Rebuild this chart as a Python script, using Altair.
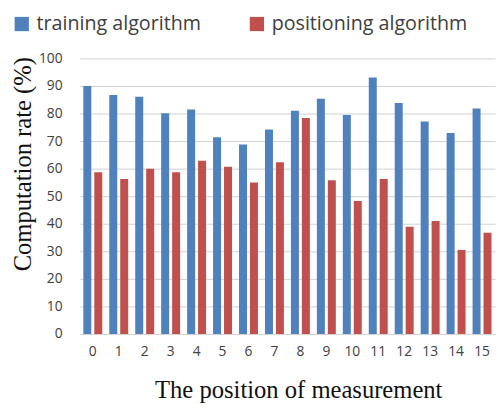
import altair as alt
import pandas as pd

positions = [str(i) for i in range(16)]
training = [90, 86.7, 86.1, 80.1, 81.5, 71.4, 68.8, 74.2, 81.0, 85.4, 79.5, 93.1, 83.8, 77.1, 72.9, 81.8]
positioning = [58.7, 56.2, 60.0, 58.7, 62.9, 60.7, 55.0, 62.3, 78.4, 55.8, 48.3, 56.2, 38.9, 41.0, 30.5, 36.7]
series = ["training algorithm", "positioning algorithm"]
colors = ["#4F81BD", "#C0504D"]

rows = []
for p, t, q in zip(positions, training, positioning):
    rows.append({"pos": p, "series": series[0], "value": t})
    rows.append({"pos": p, "series": series[1], "value": q})
df = pd.DataFrame(rows)

chart = alt.Chart(df).mark_bar().encode(
    x=alt.X("pos:N", sort=positions,
            scale=alt.Scale(paddingInner=0.27, paddingOuter=0.135),
            axis=alt.Axis(title="The position of measurement", labelAngle=0,
                          domain=False, ticks=False, labelPadding=11,
                          labelFont="Open Sans", labelFontSize=14, labelColor="#404040",
                          titleFont="Liberation Serif", titleFontSize=25,
                          titleFontWeight="normal", titleColor="#111111",
                          titleX=222, titleY=65, titleBaseline="alphabetic")),
    xOffset=alt.XOffset("series:N", sort=series,
                        scale=alt.Scale(paddingInner=0.27, paddingOuter=0)),
    y=alt.Y("value:Q", scale=alt.Scale(domain=[0, 100]),
            axis=alt.Axis(title="Computation rate (%)", values=list(range(0, 101, 10)),
                          domain=False, ticks=False, labelPadding=18,
                          labelFont="Open Sans", labelFontSize=14, labelColor="#404040",
                          gridColor="#d0d0d0", gridWidth=1,
                          titleFont="Liberation Serif", titleFontSize=25,
                          titleFontWeight="normal", titleColor="#111111",
                          titleX=-58, titleY=107, titleBaseline="middle", titleAngle=-90)),
    color=alt.Color("series:N", sort=series,
                    scale=alt.Scale(domain=series, range=colors),
                    legend=alt.Legend(title=None, orient="none", direction="horizontal",
                                      legendX=-69, legendY=-45,
                                      symbolType="square", symbolSize=210,
                                      symbolStrokeWidth=0, symbolOpacity=1,
                                      labelFont="Open Sans", labelFontSize=20,
                                      labelColor="#404040", labelOffset=5,
                                      labelLimit=400, columnPadding=46)),
).properties(
    width=422, height=280,
    autosize=alt.AutoSizeParams(type="none"),
    padding={"left": 73, "top": 48, "right": 1, "bottom": 72},
).configure_view(stroke=None)

chart.save("out.html", embed_options={"renderer": "svg", "actions": False})
